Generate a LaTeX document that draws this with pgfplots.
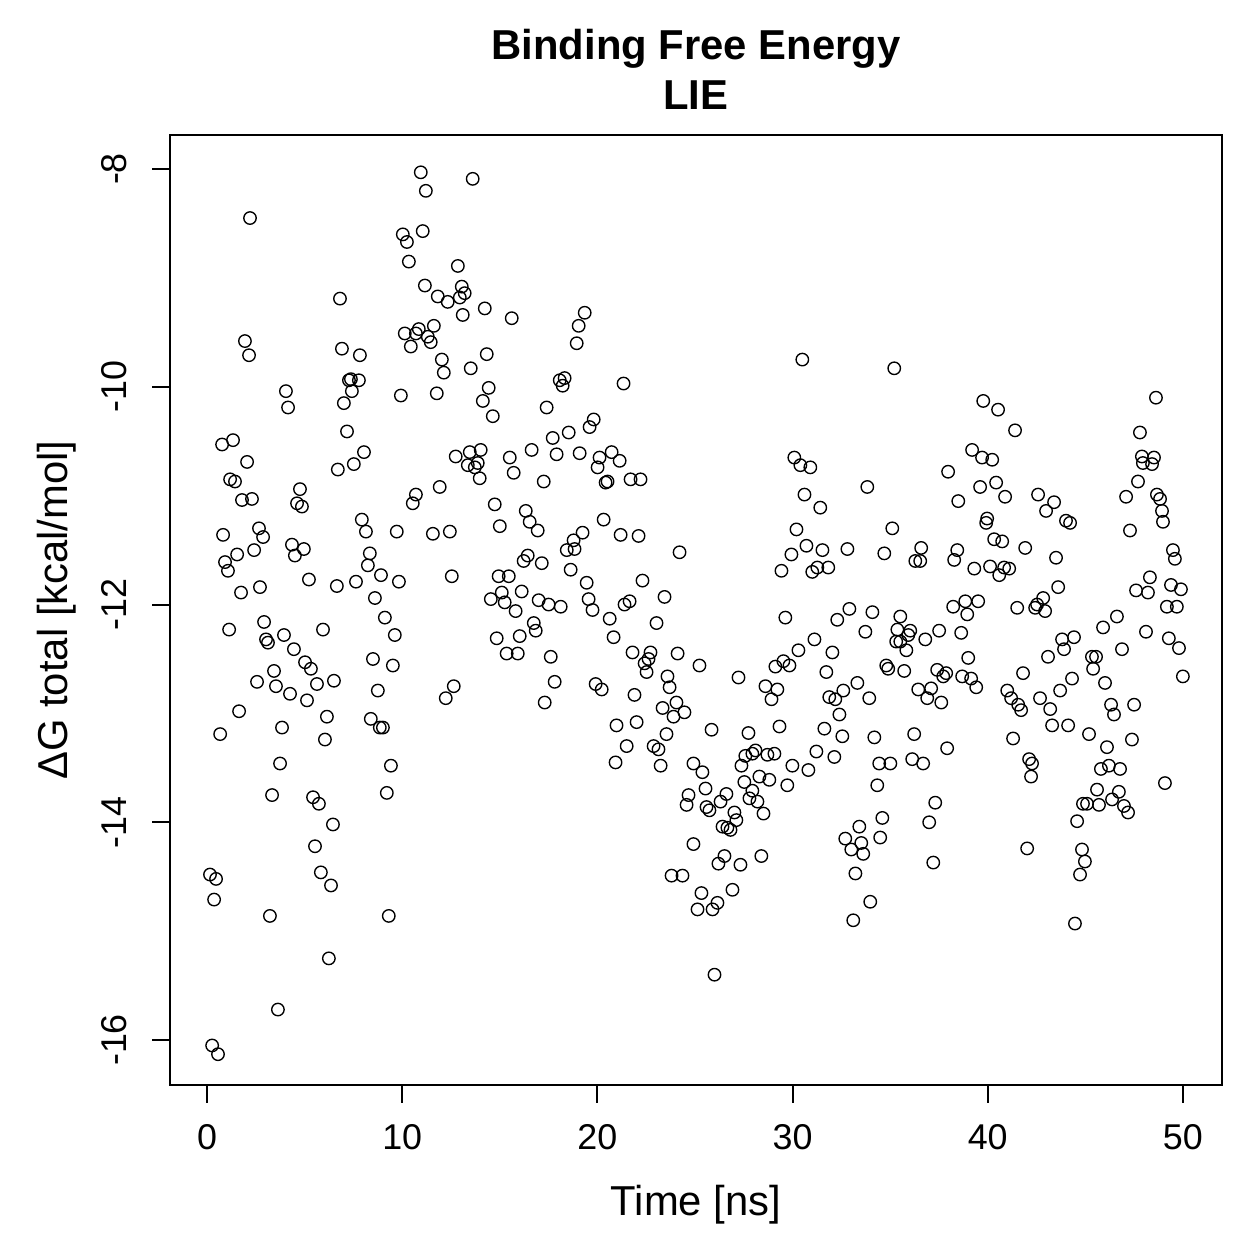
\documentclass[border=0pt]{standalone}
\usepackage{fontspec}
\setmainfont{Liberation Sans}
\usepackage{pgfplots}
\pgfplotsset{compat=1.18}
\pgfplotstableread{
x y
10.95 -8.03
11.21 -8.20
2.20 -8.45
10.03 -8.60
10.24 -8.67
11.05 -8.57
10.34 -8.85
11.16 -9.07
11.82 -9.17
6.81 -9.19
10.13 -9.51
10.70 -9.51
10.85 -9.47
10.44 -9.63
11.31 -9.54
11.46 -9.59
11.62 -9.44
12.03 -9.75
1.94 -9.58
2.15 -9.71
6.91 -9.65
7.83 -9.71
7.27 -9.94
7.37 -9.93
7.78 -9.94
7.42 -10.04
7.01 -10.15
9.93 -10.08
11.77 -10.06
4.04 -10.04
4.15 -10.19
7.17 -10.41
0.77 -10.53
1.33 -10.49
13.61 -8.09
12.85 -8.89
13.05 -9.08
13.20 -9.14
12.95 -9.18
12.33 -9.22
14.23 -9.28
13.10 -9.34
15.61 -9.37
19.35 -9.32
19.04 -9.44
18.94 -9.60
14.33 -9.70
13.51 -9.83
12.13 -9.87
14.43 -10.01
14.13 -10.13
14.64 -10.27
18.07 -9.94
18.32 -9.92
18.22 -9.99
21.34 -9.97
17.40 -10.19
19.81 -10.30
19.60 -10.37
17.71 -10.47
18.53 -10.42
30.50 -9.75
35.21 -9.83
39.77 -10.13
40.53 -10.21
41.40 -10.40
48.62 -10.10
47.80 -10.42
2.05 -10.69
1.18 -10.85
1.43 -10.87
1.79 -11.04
2.30 -11.03
4.76 -10.94
4.61 -11.07
4.86 -11.10
6.70 -10.76
7.52 -10.71
8.04 -10.60
10.70 -10.99
10.54 -11.07
7.93 -11.22
8.14 -11.33
9.72 -11.33
2.66 -11.30
2.87 -11.38
0.82 -11.36
2.41 -11.50
4.35 -11.45
4.96 -11.49
4.50 -11.55
1.54 -11.54
0.92 -11.61
1.07 -11.69
8.34 -11.53
8.24 -11.64
8.91 -11.73
9.83 -11.79
5.22 -11.77
6.65 -11.83
7.63 -11.79
2.71 -11.84
1.74 -11.89
8.60 -11.94
9.11 -12.12
9.62 -12.28
1.13 -12.23
2.92 -12.16
3.02 -12.32
3.12 -12.35
3.94 -12.28
4.45 -12.41
5.94 -12.23
5.02 -12.53
5.32 -12.59
3.43 -12.61
8.50 -12.50
9.52 -12.56
2.56 -12.71
3.53 -12.75
4.25 -12.82
5.63 -12.73
6.50 -12.70
5.12 -12.88
8.75 -12.79
1.64 -12.98
3.84 -13.13
0.67 -13.19
6.14 -13.03
6.04 -13.24
8.39 -13.05
8.85 -13.13
9.01 -13.13
3.74 -13.46
9.42 -13.48
11.92 -10.92
11.57 -11.35
12.74 -10.64
13.46 -10.60
14.02 -10.58
13.36 -10.72
13.72 -10.74
13.87 -10.70
13.97 -10.84
15.51 -10.65
15.71 -10.79
16.63 -10.58
17.91 -10.62
19.09 -10.61
20.11 -10.65
20.01 -10.74
20.73 -10.60
21.14 -10.68
20.42 -10.88
20.52 -10.87
21.70 -10.85
22.21 -10.85
17.25 -10.87
14.74 -11.08
15.00 -11.28
16.33 -11.14
16.53 -11.24
16.94 -11.32
20.32 -11.22
19.24 -11.34
18.78 -11.41
18.43 -11.50
18.83 -11.49
21.19 -11.36
22.11 -11.37
24.21 -11.52
12.44 -11.33
16.43 -11.55
16.22 -11.60
17.15 -11.62
18.63 -11.68
12.54 -11.74
14.94 -11.74
15.46 -11.74
19.45 -11.80
22.31 -11.78
16.12 -11.88
15.10 -11.89
14.54 -11.95
15.25 -11.98
15.81 -12.06
16.99 -11.96
17.50 -12.00
18.12 -12.02
19.55 -11.95
19.75 -12.05
21.39 -12.00
21.65 -11.97
23.44 -11.93
20.63 -12.13
23.03 -12.17
16.74 -12.17
16.84 -12.24
20.83 -12.30
14.84 -12.31
16.02 -12.29
15.35 -12.45
15.92 -12.45
17.61 -12.48
21.80 -12.44
22.72 -12.44
22.62 -12.50
22.42 -12.54
22.52 -12.62
24.11 -12.45
25.23 -12.56
23.59 -12.66
23.70 -12.76
17.81 -12.71
19.91 -12.73
20.22 -12.78
12.64 -12.75
12.23 -12.86
17.30 -12.90
21.90 -12.83
24.05 -12.90
24.46 -12.99
23.90 -13.03
23.34 -12.95
20.98 -13.11
22.01 -13.08
23.54 -13.19
21.50 -13.30
22.88 -13.30
23.13 -13.33
20.93 -13.45
23.24 -13.48
24.92 -13.46
25.38 -13.54
30.09 -10.65
30.40 -10.72
30.91 -10.74
33.83 -10.92
30.61 -10.99
31.42 -11.11
30.20 -11.31
35.11 -11.30
30.71 -11.46
29.94 -11.54
31.53 -11.50
32.81 -11.49
34.70 -11.53
36.59 -11.48
36.29 -11.60
36.54 -11.60
29.43 -11.69
31.01 -11.70
31.27 -11.66
31.83 -11.66
29.63 -12.12
32.91 -12.04
32.29 -12.14
34.09 -12.07
35.52 -12.11
33.73 -12.25
35.37 -12.23
36.03 -12.24
35.93 -12.28
35.31 -12.34
35.52 -12.34
35.83 -12.42
36.80 -12.32
37.51 -12.24
31.12 -12.32
30.30 -12.42
32.04 -12.44
29.53 -12.52
29.12 -12.57
29.84 -12.56
34.80 -12.56
34.90 -12.59
35.72 -12.61
37.41 -12.60
37.87 -12.63
37.72 -12.66
27.23 -12.67
31.73 -12.62
28.61 -12.75
29.22 -12.78
28.92 -12.87
33.32 -12.72
32.60 -12.79
31.88 -12.85
32.19 -12.87
33.93 -12.86
36.44 -12.78
37.10 -12.77
36.90 -12.86
37.62 -12.90
32.40 -13.01
29.33 -13.12
25.85 -13.15
27.74 -13.18
31.63 -13.14
32.55 -13.21
34.19 -13.22
36.23 -13.19
37.92 -13.32
31.22 -13.35
32.14 -13.40
28.10 -13.34
27.94 -13.37
27.58 -13.39
28.71 -13.38
29.07 -13.37
34.44 -13.46
35.01 -13.46
36.13 -13.42
36.69 -13.46
29.99 -13.48
30.81 -13.52
27.38 -13.48
37.97 -10.78
39.20 -10.58
39.71 -10.65
40.23 -10.67
47.90 -10.64
48.52 -10.65
47.95 -10.70
48.42 -10.71
39.61 -10.92
40.43 -10.88
40.89 -11.01
38.49 -11.05
42.58 -10.99
43.40 -11.06
42.99 -11.14
44.01 -11.23
44.22 -11.25
47.70 -10.87
47.09 -11.01
48.67 -10.99
48.83 -11.03
48.93 -11.14
48.98 -11.24
47.29 -11.32
39.97 -11.21
39.92 -11.25
40.33 -11.40
40.74 -11.42
41.92 -11.48
43.50 -11.57
38.44 -11.50
38.28 -11.59
39.31 -11.67
40.12 -11.65
40.84 -11.66
41.10 -11.67
40.59 -11.73
49.49 -11.50
49.59 -11.58
48.31 -11.75
49.39 -11.82
49.90 -11.86
47.60 -11.87
48.21 -11.89
49.18 -12.02
49.69 -12.02
43.61 -11.84
38.23 -12.02
38.85 -11.97
39.51 -11.97
38.95 -12.09
41.51 -12.03
42.84 -11.94
42.53 -12.00
42.43 -12.03
42.94 -12.06
46.62 -12.11
45.91 -12.21
48.11 -12.25
49.28 -12.31
49.80 -12.40
38.64 -12.26
43.81 -12.32
44.42 -12.30
43.91 -12.41
46.88 -12.41
43.09 -12.48
45.34 -12.48
45.55 -12.48
45.40 -12.59
39.00 -12.49
50.00 -12.66
41.81 -12.63
38.69 -12.66
39.15 -12.68
39.41 -12.76
44.32 -12.68
46.01 -12.72
43.71 -12.79
41.00 -12.79
41.20 -12.86
41.56 -12.92
41.71 -12.97
42.68 -12.86
43.20 -12.96
46.32 -12.92
46.47 -13.01
47.50 -12.92
43.30 -13.11
44.12 -13.11
45.19 -13.19
41.30 -13.23
46.11 -13.31
47.39 -13.24
42.12 -13.42
42.27 -13.46
45.80 -13.51
46.21 -13.48
46.78 -13.51
3.33 -13.75
5.43 -13.77
5.73 -13.83
9.21 -13.73
6.45 -14.02
5.53 -14.22
0.15 -14.48
0.46 -14.52
0.36 -14.71
3.22 -14.86
9.31 -14.86
5.83 -14.46
6.35 -14.58
6.24 -15.25
3.63 -15.72
0.26 -16.05
0.56 -16.13
24.67 -13.75
24.57 -13.84
23.80 -14.49
24.36 -14.49
25.54 -13.69
26.61 -13.74
26.31 -13.81
25.59 -13.86
25.74 -13.89
28.30 -13.58
28.81 -13.61
27.53 -13.63
29.73 -13.66
27.94 -13.71
27.79 -13.78
28.20 -13.81
28.51 -13.92
27.02 -13.91
27.12 -13.98
26.41 -14.04
26.66 -14.05
26.82 -14.07
24.92 -14.20
26.51 -14.31
26.20 -14.38
27.33 -14.39
28.40 -14.31
25.33 -14.65
26.92 -14.62
25.13 -14.80
26.15 -14.74
25.90 -14.80
26.00 -15.40
34.34 -13.66
37.31 -13.82
37.00 -14.00
34.60 -13.96
33.42 -14.04
32.70 -14.15
33.52 -14.19
33.01 -14.25
33.62 -14.29
34.49 -14.14
37.21 -14.37
33.22 -14.47
33.98 -14.73
33.11 -14.90
42.22 -13.58
49.08 -13.64
45.60 -13.70
46.72 -13.72
46.37 -13.79
44.88 -13.83
45.09 -13.83
45.70 -13.84
46.98 -13.85
47.19 -13.91
44.58 -13.99
42.02 -14.24
44.83 -14.25
44.98 -14.36
44.73 -14.48
44.47 -14.93
}\lie
\begin{document}
\begin{tikzpicture}
\useasboundingbox (-68.31pt,-69.92pt) rectangle (437.59pt,435.99pt);
\begin{axis}[
  at={(0pt,0pt)}, anchor=south west,
  scale only axis, width=422.7pt, height=381.7pt,
  xmin=-1.9, xmax=52.0, ymin=-16.413, ymax=-7.688,
  axis line style={line width=0.8pt, black},
  tick style={line width=0.8pt, black},
  tick align=outside, major tick length=7.2pt,
  xtick pos=lower, ytick pos=left,
  xtick={0,10,20,30,40,50},
  xticklabels={0,10,20,30,40,50},
  ytick={-16,-14,-12,-10,-8},
  yticklabels={-16,-14,-12,-10,-8},
  tick label style={font=\fontsize{14.4}{17}\selectfont},
  xticklabel style={anchor=base, inner sep=0pt, yshift=-18.8pt},
  yticklabel style={inner sep=0pt, rotate=90, anchor=base, yshift=10.1pt},
  title={Binding Free Energy\\LIE},
  title style={at={(axis description cs:0.5,1)}, anchor=south, inner sep=0pt, yshift=4pt, align=center, font=\bfseries\fontsize{16.8}{20.1}\selectfont},
  xlabel={Time [ns]},
  xlabel style={at={(axis description cs:0.5,0)}, anchor=base, inner sep=0pt, yshift=-52.3pt, font=\fontsize{16.8}{20}\selectfont},
  ylabel={ΔG total [kcal/mol]},
  ylabel style={at={(axis description cs:0,0.5)}, anchor=base, inner sep=0pt, yshift=41pt, font=\fontsize{16.8}{20}\selectfont},
]
\addplot[only marks, mark=o, mark size=2.5pt, line width=0.55pt, black] table[x=x, y=y] {\lie};
\end{axis}
\end{tikzpicture}
\end{document}
